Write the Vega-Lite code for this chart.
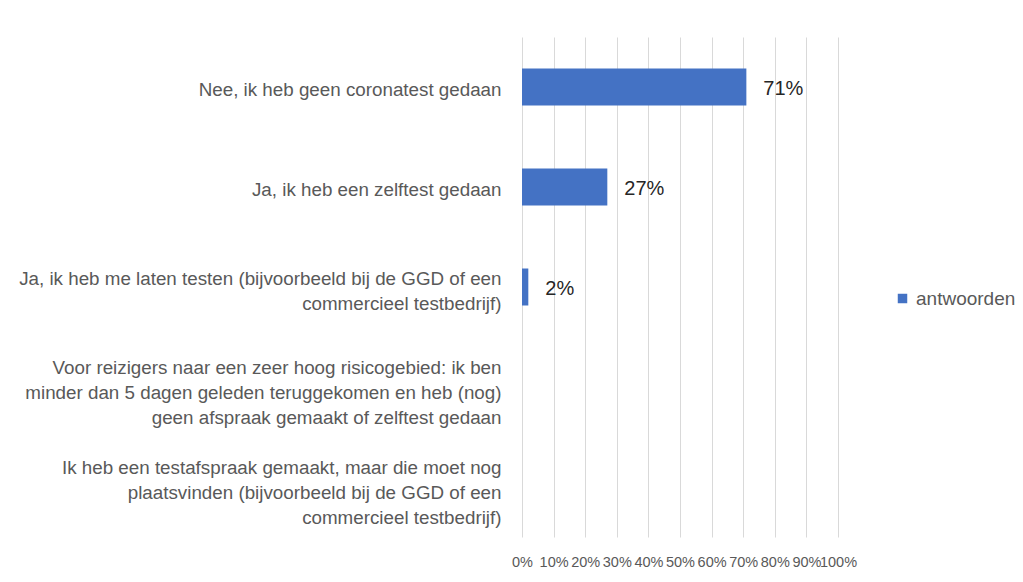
{
  "$schema": "https://vega.github.io/schema/vega-lite/v6.json",
  "width": 316,
  "height": 500,
  "autosize": {"type": "none"},
  "padding": {"left": 522, "top": 37, "right": 185, "bottom": 45},
  "background": "#ffffff",
  "config": {
    "view": {"stroke": null},
    "font": "Liberation Sans"
  },
  "data": {
    "values": [
      {"antwoord": "Nee, ik heb geen coronatest gedaan", "reeks": "antwoorden", "aandeel": 0.71},
      {"antwoord": "Ja, ik heb een zelftest gedaan", "reeks": "antwoorden", "aandeel": 0.27},
      {"antwoord": "Ja, ik heb me laten testen (bijvoorbeeld bij de GGD of een|commercieel testbedrijf)", "reeks": "antwoorden", "aandeel": 0.02},
      {"antwoord": "Voor reizigers naar een zeer hoog risicogebied: ik ben|minder dan 5 dagen geleden teruggekomen en heb (nog)|geen afspraak gemaakt of zelftest gedaan", "reeks": "antwoorden", "aandeel": null},
      {"antwoord": "Ik heb een testafspraak gemaakt, maar die moet nog|plaatsvinden (bijvoorbeeld bij de GGD of een|commercieel testbedrijf)", "reeks": "antwoorden", "aandeel": null}
    ]
  },
  "encoding": {
    "y": {
      "field": "antwoord",
      "type": "nominal",
      "sort": null,
      "scale": {
        "domain": [
          "Nee, ik heb geen coronatest gedaan",
          "Ja, ik heb een zelftest gedaan",
          "Ja, ik heb me laten testen (bijvoorbeeld bij de GGD of een|commercieel testbedrijf)",
          "Voor reizigers naar een zeer hoog risicogebied: ik ben|minder dan 5 dagen geleden teruggekomen en heb (nog)|geen afspraak gemaakt of zelftest gedaan",
          "Ik heb een testafspraak gemaakt, maar die moet nog|plaatsvinden (bijvoorbeeld bij de GGD of een|commercieel testbedrijf)"
        ],
        "paddingInner": 0.63,
        "paddingOuter": 0.315
      },
      "axis": {
        "title": null,
        "domain": false,
        "ticks": false,
        "labelExpr": "split(datum.label, '|')",
        "labelFontSize": 18.8,
        "labelColor": "#595959",
        "labelPadding": 21,
        "labelLineHeight": 25,
        "labelLimit": 600,
        "labelOffset": {"expr": "3 - 11 * (length(split(datum.label, '|')) - 1)"}
      }
    },
    "x": {
      "field": "aandeel",
      "type": "quantitative",
      "scale": {"domain": [0, 1], "nice": false},
      "axis": {
        "title": null,
        "format": ".0%",
        "values": [0, 0.1, 0.2, 0.3, 0.4, 0.5, 0.6, 0.7, 0.8, 0.9, 1],
        "domain": false,
        "ticks": false,
        "grid": true,
        "gridColor": "#d9d9d9",
        "gridWidth": 1,
        "labelFontSize": 14.5,
        "labelColor": "#595959",
        "labelPadding": 18,
        "labelOverlap": false,
        "labelFlush": false
      }
    }
  },
  "layer": [
    {
      "mark": {"type": "bar"},
      "encoding": {
        "color": {
          "field": "reeks",
          "type": "nominal",
          "scale": {"range": ["#4472c4"]},
          "legend": {
            "title": null,
            "orient": "none",
            "legendX": 371,
            "legendY": 252,
            "symbolType": "square",
            "symbolSize": 90,
            "symbolStrokeWidth": 0,
            "labelFontSize": 19,
            "labelColor": "#595959",
            "labelOffset": 4
          }
        }
      }
    },
    {
      "mark": {"type": "text", "align": "left", "baseline": "middle", "dx": 17, "dy": 2, "fontSize": 20, "color": "#262626"},
      "encoding": {
        "text": {"field": "aandeel", "type": "quantitative", "format": ".0%"}
      }
    }
  ]
}
